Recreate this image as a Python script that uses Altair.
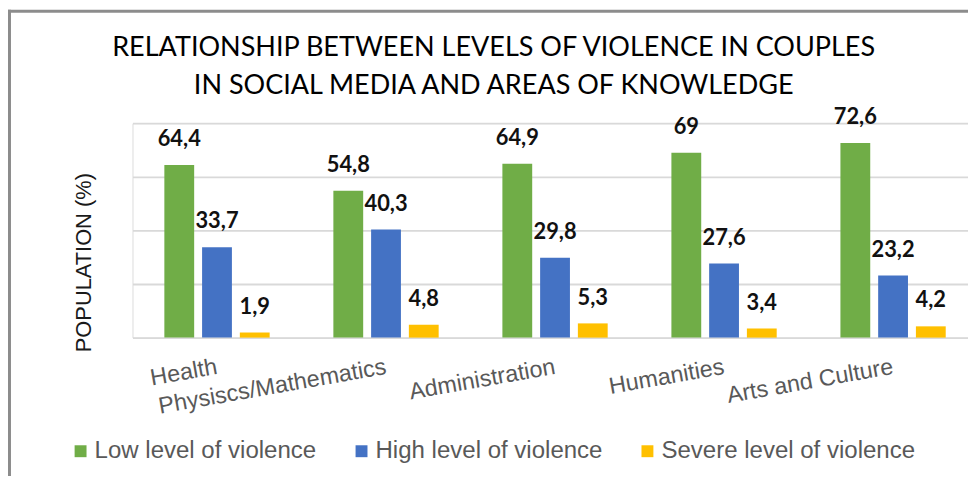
import altair as alt
import pandas as pd

categories = ["Health", "Physiscs/Mathematics", "Administration", "Humanities", "Arts and Culture"]
series = ["Low level of violence", "High level of violence", "Severe level of violence"]
low = [64.4, 54.8, 64.9, 69, 72.6]
high = [33.7, 40.3, 29.8, 27.6, 23.2]
severe = [1.9, 4.8, 5.3, 3.4, 4.2]
colors = ["#70AD47", "#4472C4", "#FFC000"]
y_ticks = [0, 20, 40, 60, 80]

rows = []
for s, vals in zip(series, [low, high, severe]):
    for c, v in zip(categories, vals):
        rows.append({"area": c, "level": s, "value": v,
                     "label": f"{v:g}".replace(".", ",")})
df = pd.DataFrame(rows)

W = 841.6
H = 216.0
PL = 125.4
PT = 114.3

x_enc = alt.X("area:N", sort=categories, title=None,
              scale=alt.Scale(range=[0, 851.25], paddingInner=0.377, paddingOuter=0.1885),
              axis=alt.Axis(domain=False, ticks=False, labelAngle=-10, labelAlign="right",
                            labelBaseline="middle", labelPadding=29, labelFont="Liberation Sans",
                            labelFontSize=23.5, labelColor="#595959", labelLimit=400))
xo_enc = alt.XOffset("level:N", sort=series,
                     scale=alt.Scale(paddingInner=0.21, paddingOuter=0))
y_enc = alt.Y("value:Q", scale=alt.Scale(domain=[0, 80], nice=False),
              axis=alt.Axis(values=y_ticks, labels=False, ticks=False, domain=False,
                            grid=True, gridColor="#d9d9d9", gridWidth=1.8,
                            title="POPULATION (%)", titleFont="Liberation Sans",
                            titleFontSize=22, titleFontWeight="normal", titleColor="#1a1a1a",
                            titleAngle=270, titleX=-49, titleY=140, titleAlign="center",
                            titleBaseline="middle"))

bars = alt.Chart(df).mark_bar().encode(
    x=x_enc, xOffset=xo_enc, y=y_enc,
    color=alt.Color("level:N", sort=series,
                    scale=alt.Scale(domain=series, range=colors),
                    legend=alt.Legend(title=None, orient="none", direction="horizontal",
                                      legendX=-64.4, legendY=318, symbolType="square",
                                      symbolSize=144, symbolStrokeWidth=0,
                                      labelFont="Liberation Sans", labelFontSize=24.2,
                                      labelColor="#595959", labelOffset=2,
                                      columnPadding=33, padding=0, labelLimit=400))
)

labels = alt.Chart(df).mark_text(font="Lato", fontSize=22, fontWeight="bold",
                                 color="#111111", baseline="alphabetic", dy=-19).encode(
    x=alt.X("area:N", sort=categories), xOffset=alt.XOffset("level:N", sort=series),
    y="value:Q", text="label:N"
)

frame_df = pd.DataFrame({"k": [0]})
left_border = alt.Chart(frame_df).mark_rule(color="#8c8c8c", strokeWidth=3).encode(
    x=alt.value(-123.9), y=alt.value(-114.3), y2=alt.value(360)
)
top_border = alt.Chart(frame_df).mark_rule(color="#8c8c8c", strokeWidth=3).encode(
    x=alt.value(-125.4), x2=alt.value(860), y=alt.value(-112.8)
)

chart = alt.layer(bars, labels, left_border, top_border).properties(
    width=W, height=H,
    autosize=alt.AutoSizeParams(type="none"),
    padding={"left": PL, "top": PT, "right": 0, "bottom": 138},
    title=alt.TitleParams(
        text=["RELATIONSHIP BETWEEN LEVELS OF VIOLENCE IN COUPLES",
              "IN SOCIAL MEDIA AND AREAS OF KNOWLEDGE"],
        font="Lato", fontSize=27.2, fontWeight="normal", color="#000000",
        lineHeight=39, anchor="middle", frame="group", dx=-57, offset=-93)
).configure_view(stroke=None).configure(background="white")

chart.save("out.html", embed_options={"renderer": "svg", "actions": False})
